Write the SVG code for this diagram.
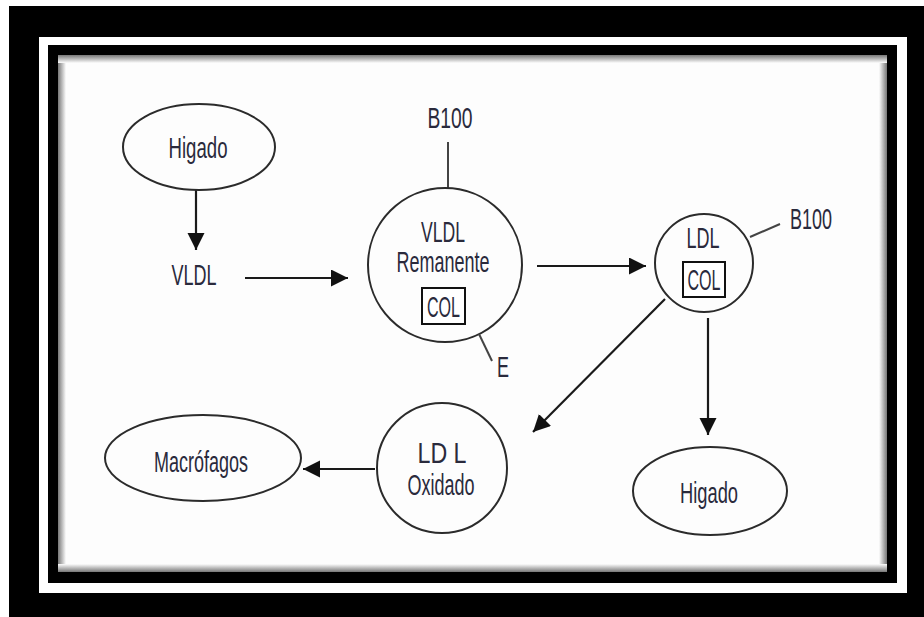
<svg xmlns="http://www.w3.org/2000/svg" width="924" height="617" viewBox="0 0 924 617">
<defs>
<marker id="ah" markerUnits="userSpaceOnUse" markerWidth="20" markerHeight="20" refX="17" refY="8.5" orient="auto">
<path d="M0,0 L17,8.5 L0,17 Z" fill="#111"/>
</marker>
<linearGradient id="gl" x1="0" y1="0" x2="1" y2="0"><stop offset="0" stop-color="#777"/><stop offset="1" stop-color="#fdfdfd"/></linearGradient>
<linearGradient id="gr" x1="1" y1="0" x2="0" y2="0"><stop offset="0" stop-color="#777"/><stop offset="1" stop-color="#fdfdfd"/></linearGradient>
<linearGradient id="gt" x1="0" y1="0" x2="0" y2="1"><stop offset="0" stop-color="#777"/><stop offset="1" stop-color="#fdfdfd"/></linearGradient>
<linearGradient id="gb" x1="0" y1="1" x2="0" y2="0"><stop offset="0" stop-color="#777"/><stop offset="1" stop-color="#fdfdfd"/></linearGradient>
</defs>
<style>
.shape{fill:none;stroke:#2b2b2b;stroke-width:2}
.conn{fill:none;stroke:#1a1a1a;stroke-width:2.2}
.tick{fill:none;stroke:#444;stroke-width:2}
.lbl{font-family:"Liberation Sans Narrow","Liberation Sans",Arial,sans-serif;font-size:30px;fill:#2a2a3c;text-anchor:middle}
.box{fill:#fff;stroke:#111;stroke-width:2}
</style>
<!-- frame -->
<rect x="0" y="0" width="924" height="617" fill="#fff"/>
<rect x="9" y="6" width="915" height="611" fill="#000"/>
<rect x="39" y="37" width="868" height="556" fill="#fff"/>
<rect x="48" y="45" width="849" height="538" fill="#000"/>
<rect x="58" y="55" width="829" height="517" fill="#fdfdfd"/>
<rect x="58" y="55" width="8" height="517" fill="url(#gl)"/>
<rect x="879" y="55" width="8" height="517" fill="url(#gr)"/>
<rect x="58" y="55" width="829" height="8" fill="url(#gt)"/>
<rect x="58" y="564" width="829" height="8" fill="url(#gb)"/>

<g id="connectors">
<line class="conn" x1="196" y1="190" x2="196" y2="250" marker-end="url(#ah)"/>
<line class="conn" x1="245" y1="278" x2="348" y2="278" marker-end="url(#ah)"/>
<line class="conn" x1="537" y1="266" x2="646" y2="266" marker-end="url(#ah)"/>
<line class="conn" x1="665" y1="299" x2="533" y2="432" marker-end="url(#ah)"/>
<line class="conn" x1="708" y1="318" x2="708" y2="435" marker-end="url(#ah)"/>
<line class="conn" x1="375" y1="469" x2="303" y2="469" marker-end="url(#ah)"/>
</g>

<g id="higado-top">
<ellipse class="shape" cx="199" cy="147" rx="76" ry="43"/>
<text class="lbl" x="198" y="158" textLength="59" lengthAdjust="spacingAndGlyphs">Higado</text>
</g>

<g id="vldl">
<text class="lbl" x="194" y="285" textLength="45" lengthAdjust="spacingAndGlyphs">VLDL</text>
</g>

<g id="vldl-remanente">
<line class="tick" x1="448" y1="142" x2="448" y2="188"/>
<text class="lbl" x="450" y="128" textLength="45" lengthAdjust="spacingAndGlyphs">B100</text>
<circle class="shape" cx="445" cy="265" r="77"/>
<text class="lbl" x="443" y="242" textLength="44" lengthAdjust="spacingAndGlyphs">VLDL</text>
<text class="lbl" x="443" y="272" textLength="93" lengthAdjust="spacingAndGlyphs">Remanente</text>
<rect class="box" x="422" y="288" width="43" height="36"/>
<text class="lbl" x="443.5" y="317" textLength="33" lengthAdjust="spacingAndGlyphs">COL</text>
<line class="tick" x1="479" y1="334" x2="492" y2="361"/>
<text class="lbl" x="503" y="377" textLength="12" lengthAdjust="spacingAndGlyphs">E</text>
</g>

<g id="ldl">
<circle class="shape" cx="704" cy="263" r="49"/>
<text class="lbl" x="703" y="248" textLength="33" lengthAdjust="spacingAndGlyphs">LDL</text>
<rect class="box" x="683" y="262" width="42" height="35"/>
<text class="lbl" x="704" y="290" textLength="33" lengthAdjust="spacingAndGlyphs">COL</text>
<line class="tick" x1="750" y1="237" x2="780" y2="224"/>
<text class="lbl" x="811" y="229" textLength="42" lengthAdjust="spacingAndGlyphs">B100</text>
</g>

<g id="ldl-oxidado">
<circle class="shape" cx="442" cy="468" r="65"/>
<text class="lbl" x="442" y="463" textLength="49" lengthAdjust="spacingAndGlyphs">LD L</text>
<text class="lbl" x="441" y="495" textLength="67" lengthAdjust="spacingAndGlyphs">Oxidado</text>
</g>

<g id="macrofagos">
<ellipse class="shape" cx="203" cy="458" rx="98" ry="43"/>
<text class="lbl" x="201" y="472" textLength="94" lengthAdjust="spacingAndGlyphs">Macrófagos</text>
</g>

<g id="higado-bottom">
<ellipse class="shape" cx="710" cy="491" rx="77" ry="44"/>
<text class="lbl" x="709" y="503" textLength="58" lengthAdjust="spacingAndGlyphs">Higado</text>
</g>
</svg>
